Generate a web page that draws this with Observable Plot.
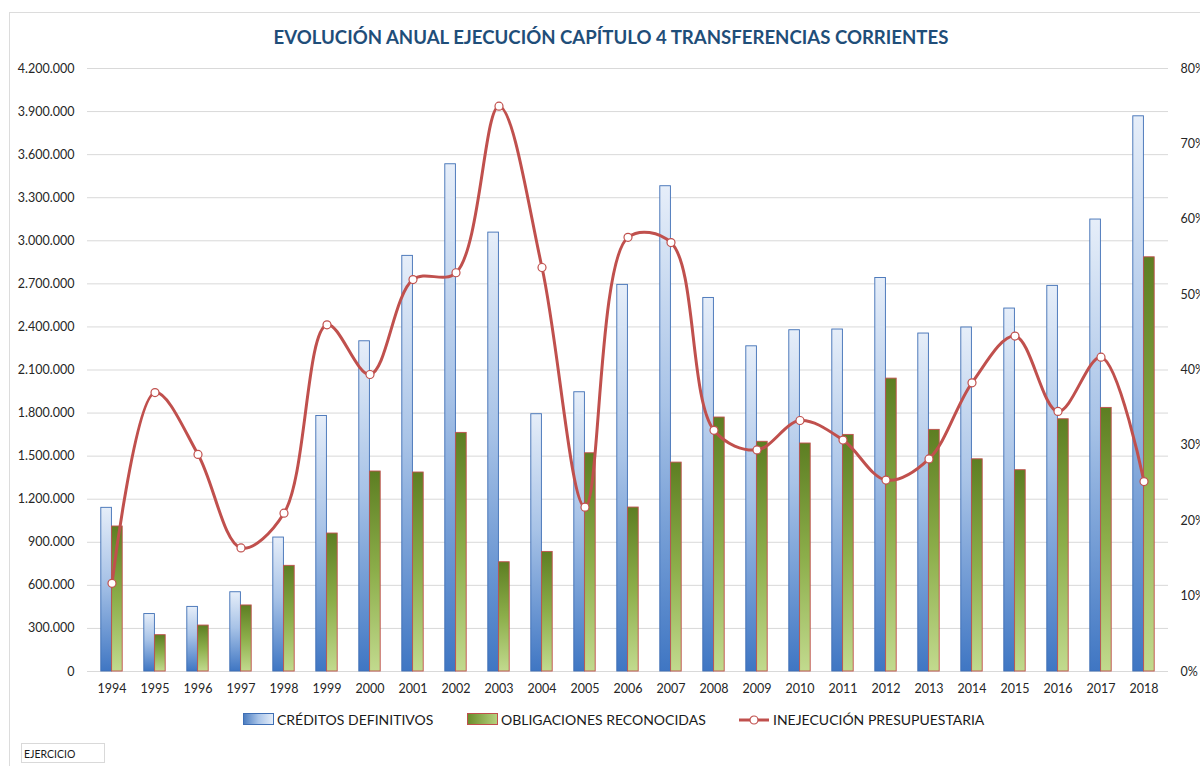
<!DOCTYPE html>
<html>
<head>
<meta charset="utf-8">
<script src="https://cdn.jsdelivr.net/npm/d3@7"></script>
<script src="https://cdn.jsdelivr.net/npm/@observablehq/plot@0.6"></script>
<style>
  html, body { margin: 0; padding: 0; background: #fff; }
  #frame { position: relative; width: 1200px; height: 766px; overflow: hidden; font-family: Lato, "Open Sans", sans-serif; color: #262626; }
  #border { position: absolute; left: 9px; top: 12px; width: 1300px; height: 900px; border-left: 1px solid #dcdcdc; border-top: 1px solid #dcdcdc; }
  #title { position: absolute; left: 0; top: 26px; width: 1222px; text-align: center; font-weight: bold; font-size: 18.6px; color: #1f4e79; }
  #chart { position: absolute; left: 0; top: 56px; }
  .leg { position: absolute; top: 711px; font-size: 14px; line-height: 18px; color: #1a1a1a; white-space: nowrap; }
  #ejercicio { position: absolute; left: 21px; top: 743px; width: 84px; height: 20px; border: 1px solid #d9d9d9; font-size: 10.5px; line-height: 20px; padding-left: 2px; box-sizing: border-box; color: #1a1a1a; }
</style>
</head>
<body>
<div id="frame">
  <div id="border"></div>
  <div id="title">EVOLUCIÓN ANUAL EJECUCIÓN CAPÍTULO 4 TRANSFERENCIAS CORRIENTES</div>
  <div id="chart"></div>
  <svg class="leg" style="left:243px;top:713px" width="32" height="13"><rect x="0.5" y="0.5" width="30" height="11" fill="url(#lgBlue)" stroke="#3f6fb5"/></svg>
  <div class="leg" style="left:277px">CRÉDITOS DEFINITIVOS</div>
  <svg class="leg" style="left:467px;top:713px" width="32" height="13"><rect x="0.5" y="0.5" width="30" height="11" fill="url(#lgGreen)" stroke="#c0504d"/></svg>
  <div class="leg" style="left:501px">OBLIGACIONES RECONOCIDAS</div>
  <svg class="leg" style="left:739px;top:712px" width="32" height="16"><line x1="0" y1="8" x2="30" y2="8" stroke="#c0504d" stroke-width="3"/><circle cx="15" cy="8" r="4" fill="#fff" stroke="#c0504d" stroke-width="1.2"/></svg>
  <div class="leg" style="left:773px">INEJECUCIÓN PRESUPUESTARIA</div>
  <div id="ejercicio">EJERCICIO</div>
</div>
<svg width="0" height="0" style="position:absolute">
  <defs>
    <linearGradient id="lgBlue" x1="0" y1="0" x2="1" y2="0">
      <stop offset="0" stop-color="#4a7cc0"/><stop offset="0.5" stop-color="#a9c4e8"/><stop offset="1" stop-color="#e6eef9"/>
    </linearGradient>
    <linearGradient id="lgGreen" x1="0" y1="0" x2="1" y2="0">
      <stop offset="0" stop-color="#6a8c2a"/><stop offset="1" stop-color="#b7d27e"/>
    </linearGradient>
    <linearGradient id="gBlue" x1="0" y1="0" x2="0" y2="1">
      <stop offset="0" stop-color="#e6eef9"/><stop offset="0.45" stop-color="#a8c3e7"/><stop offset="1" stop-color="#3f76c3"/>
    </linearGradient>
    <linearGradient id="gGreen" x1="0" y1="0" x2="0" y2="1">
      <stop offset="0" stop-color="#5d7e22"/><stop offset="0.5" stop-color="#8cae4a"/><stop offset="1" stop-color="#c2da8e"/>
    </linearGradient>
  </defs>
</svg>
<script>
const years = [1994,1995,1996,1997,1998,1999,2000,2001,2002,2003,2004,2005,2006,2007,2008,2009,2010,2011,2012,2013,2014,2015,2016,2017,2018];
const creditos = [1140000,400000,450000,552000,933000,1780000,2300000,2895000,3533000,3057000,1792000,1945000,2693000,3380000,2602000,2265000,2377000,2382000,2741000,2354000,2396000,2528000,2686000,3148000,3867000];
const obligaciones = [1010000,253000,320000,460000,736000,961000,1393000,1386000,1662000,761000,833000,1520000,1142000,1455000,1769000,1600000,1588000,1648000,2040000,1683000,1478000,1402000,1757000,1836000,2885000];
const inejecucion = [11.7,37.0,28.8,16.4,21.0,46.0,39.4,52.0,52.9,75.0,53.6,21.8,57.6,56.9,32.0,29.4,33.3,30.7,25.4,28.2,38.3,44.5,34.5,41.7,25.2];
const leftTicks = [0,300000,600000,900000,1200000,1500000,1800000,2100000,2400000,2700000,3000000,3300000,3600000,3900000,4200000];
const rightTicks = [0,10,20,30,40,50,60,70,80];

const YMAX = 4200000, PMAX = 80;
const toY = p => p / PMAX * YMAX;
const fmt = d => d3.format(",")(d).replace(/,/g, ".");

const rows = years.map((y, i) => ({year: String(y), cred: creditos[i], obl: obligaciones[i], inej: inejecucion[i]}));

const chart = Plot.plot({
  width: 1200,
  height: 644,
  marginTop: 12,
  marginBottom: 29,
  marginLeft: 87,
  marginRight: 32,
  style: {fontFamily: "Lato, 'Open Sans', sans-serif", fontSize: "12.5px", color: "#262626", background: "transparent"},
  x: {type: "band", domain: years.map(String), padding: 0, axis: null, label: null},
  y: {domain: [0, YMAX], axis: null, label: null},
  marks: [
    Plot.ruleY(leftTicks, {stroke: "#d9d9d9", strokeWidth: 1}),
    Plot.barY(rows, {x: "year", y: "cred", fill: "url(#gBlue)", stroke: "#3f6fb5", strokeWidth: 0.9, insetLeft: 10.8, insetRight: 21.6}),
    Plot.barY(rows, {x: "year", y: "obl", fill: "url(#gGreen)", stroke: "#c0504d", strokeWidth: 0.9, insetLeft: 21.6, insetRight: 10.8}),
    Plot.line(rows, {x: "year", y: d => toY(d.inej), stroke: "#c0504d", strokeWidth: 3, curve: "catmull-rom"}),
    Plot.dot(rows, {x: "year", y: d => toY(d.inej), r: 4, fill: "#ffffff", stroke: "#c0504d", strokeWidth: 1.2}),
    Plot.axisY(leftTicks, {anchor: "left", tickSize: 0, tickPadding: 13, tickFormat: fmt}),
    Plot.axisY(rightTicks.map(toY), {anchor: "right", tickSize: 0, tickPadding: 12, tickFormat: d => Math.round(d / YMAX * PMAX) + "%"}),
    Plot.axisX(years.map(String), {anchor: "bottom", tickSize: 0, tickPadding: 13})
  ]
});
document.getElementById("chart").appendChild(chart);
</script>
</body>
</html>
